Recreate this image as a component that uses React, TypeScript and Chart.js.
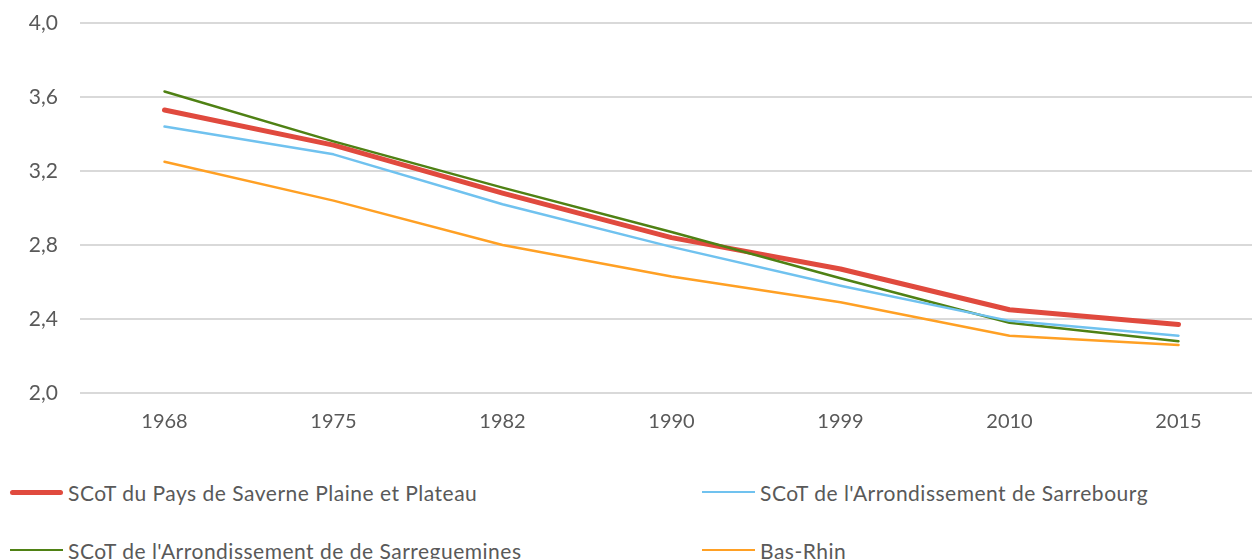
import React, { useEffect, useRef } from "react";
import { Chart, registerables } from "chart.js";

Chart.register(...registerables);

const years = ["1968", "1975", "1982", "1990", "1999", "2010", "2015"];
const saverne = [3.53, 3.34, 3.08, 2.84, 2.67, 2.45, 2.37];
const sarrebourg = [3.44, 3.29, 3.02, 2.79, 2.58, 2.39, 2.31];
const sarreguemines = [3.63, 3.36, 3.11, 2.87, 2.62, 2.38, 2.28];
const basRhin = [3.25, 3.04, 2.8, 2.63, 2.49, 2.31, 2.26];

const seriesNames = [
  "SCoT du Pays de Saverne Plaine et Plateau",
  "SCoT de l'Arrondissement de Sarrebourg",
  "SCoT de l'Arrondissement de de Sarreguemines",
  "Bas-Rhin",
];
const colors = ["#E04A3E", "#70C2EF", "#4F8114", "#FFA024"];
const widths = [5, 2.5, 2.5, 2.5];

const FONT = "Lato, 'Open Sans', sans-serif";
const GREY = "#595959";

export default function App() {
  const ref = useRef<HTMLCanvasElement | null>(null);

  useEffect(() => {
    document.body.style.margin = "0";
    const ctx = ref.current!;
    const data = [saverne, sarrebourg, sarreguemines, basRhin];
    const chart = new Chart(ctx, {
      type: "line",
      data: {
        labels: years,
        datasets: data.map((d, i) => ({
          label: seriesNames[i],
          data: d,
          borderColor: colors[i],
          backgroundColor: colors[i],
          borderWidth: widths[i],
          pointRadius: 0,
          tension: 0,
          borderCapStyle: "round" as const,
          borderJoinStyle: "round" as const,
          order: i === 0 ? 1 : 0,
        })),
      },
      options: {
        animation: false,
        responsive: false,
        maintainAspectRatio: false,
        layout: { padding: { top: 23, right: 1, left: 0, bottom: 0 } },
        plugins: {
          legend: { display: false },
          tooltip: { enabled: false },
        },
        scales: {
          x: {
            type: "category",
            offset: true,
            grid: { display: false },
            border: { display: false },
            ticks: {
              color: GREY,
              font: { family: FONT, size: 20 },
              padding: 9,
              maxRotation: 0,
            },
            afterFit: (s: any) => {
              s.height = 50;
              s.paddingLeft = 0;
              s.paddingRight = 0;
            },
          },
          y: {
            min: 2.0,
            max: 4.0,
            grid: { color: "#D9D9D9", lineWidth: 2, drawTicks: false },
            border: { display: false },
            ticks: {
              stepSize: 0.4,
              color: GREY,
              font: { family: FONT, size: 21 },
              padding: 22,
              callback: (v: any) => Number(v).toFixed(1).replace(".", ","),
            },
            afterFit: (s: any) => {
              s.width = 80;
              s.paddingTop = 0;
              s.paddingBottom = 0;
            },
          },
        },
      },
    });
    return () => chart.destroy();
  }, []);

  const legendItems = [
    { i: 0, x: 10, y: 492 },
    { i: 1, x: 702, y: 492 },
    { i: 2, x: 10, y: 550 },
    { i: 3, x: 702, y: 550 },
  ];

  return (
    <div style={{ position: "relative", width: 1252, height: 559, overflow: "hidden", background: "#fff" }}>
      <canvas ref={ref} width={1264} height={443} style={{ position: "absolute", left: 0, top: 0 }} />
      {legendItems.map(({ i, x, y }) => (
        <div
          key={i}
          style={{
            position: "absolute",
            left: x,
            top: y - 15,
            height: 30,
            display: "flex",
            alignItems: "center",
            whiteSpace: "nowrap",
            fontFamily: FONT,
            fontSize: 21,
            letterSpacing: 0.5,
            color: GREY,
          }}
        >
          <span
            style={{
              display: "inline-block",
              width: 53,
              height: widths[i],
              background: colors[i],
              borderRadius: i === 0 ? 3 : 0,
              marginRight: 5,
            }}
          />
          <span>{seriesNames[i]}</span>
        </div>
      ))}
    </div>
  );
}
